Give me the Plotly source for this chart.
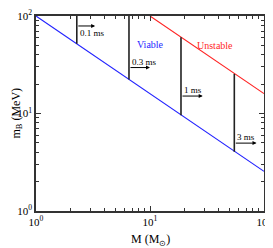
import numpy as np
import plotly.graph_objects as go

# Data
viable_M = [1, 100]
viable_mB = [100, 2.55]
unstable_M = [10, 100]
unstable_mB = [100, 16]
times_M = [2.28, 6.54, 18.7, 54.9]
times_top = [100, 100, 60.5, 25.5]
times_bottom = [52, 22.3, 9.6, 4.05]
arrow_y = [79, 29.6, 15.1, 4.97]
arrow_end = [3.3, 10.0, 29.0, 86.0]
time_labels = ["0.1 ms", "0.3 ms", "1 ms", "3 ms"]
label_shift = [-7, 6, 6, 6]
region_labels = ["Viable", "Unstable"]
region_M = [10.0, 37.0]
region_mB = [50.8, 49.7]
region_colors = ["#1f1fff", "#ff1f1f"]
tick_vals = [1, 10, 100]
tick_text = ["10<sup>0</sup>", "10<sup>1</sup>", "10<sup>2</sup>"]
minor_vals = [2, 3, 4, 5, 6, 7, 8, 9, 20, 30, 40, 50, 60, 70, 80, 90]

FONT = "Liberation Serif"

fig = go.Figure()
fig.add_trace(go.Scatter(x=viable_M, y=viable_mB, mode="lines",
                         line=dict(color="#2222ff", width=1.1), showlegend=False))
fig.add_trace(go.Scatter(x=unstable_M, y=unstable_mB, mode="lines",
                         line=dict(color="#ff2222", width=1.1), showlegend=False))
for m, t, b in zip(times_M, times_top, times_bottom):
    fig.add_trace(go.Scatter(x=[m, m], y=[b, t], mode="lines",
                             line=dict(color="#222222", width=1.6), showlegend=False))

for m, y, e, lab, s in zip(times_M, arrow_y, arrow_end, time_labels, label_shift):
    fig.add_annotation(x=np.log10(e), y=np.log10(y), ax=np.log10(m), ay=np.log10(y),
                       xref="x", yref="y", axref="x", ayref="y",
                       showarrow=True, arrowhead=2, arrowsize=0.8, arrowwidth=1,
                       arrowcolor="black", text="")
    fig.add_annotation(x=np.log10(m), y=np.log10(y), xref="x", yref="y",
                       text=lab, showarrow=False, xanchor="left", yanchor="middle",
                       xshift=1, yshift=s, font=dict(family=FONT, size=9, color="black"))

for lab, m, y, c in zip(region_labels, region_M, region_mB, region_colors):
    fig.add_annotation(x=np.log10(m), y=np.log10(y), xref="x", yref="y",
                       text=lab, showarrow=False,
                       font=dict(family=FONT, size=10, color=c))

axis_common = dict(type="log", range=[0, 2], showgrid=False, zeroline=False,
                   automargin=False, ticklabeloverflow="allow",
                   showline=True, linecolor="#333333", linewidth=1.5, mirror="allticks",
                   ticks="inside", ticklen=5, tickwidth=1, tickcolor="#333333",
                   tickvals=tick_vals, ticktext=tick_text,
                   minor=dict(ticks="inside", ticklen=3, tickwidth=1, tickcolor="#333333",
                              tickvals=minor_vals, showgrid=False),
                   tickfont=dict(family=FONT, size=11, color="black"))

fig.update_xaxes(**axis_common)
fig.update_yaxes(**axis_common)

fig.add_annotation(x=0.5, y=0, xref="paper", yref="paper", yshift=-19,
                   text="M (M<sub>⊙</sub>)", showarrow=False, yanchor="top",
                   font=dict(family=FONT, size=12, color="black"))
fig.add_annotation(x=0, y=0.5, xref="paper", yref="paper", xshift=-20,
                   text="m<sub>B</sub> (MeV)", showarrow=False, textangle=-90,
                   xanchor="center", font=dict(family=FONT, size=12, color="black"))

# the page body has an 8px default margin, so the figure is sized to fit the window
fig.update_layout(width=265, height=240, margin=dict(l=28, r=9, t=8, b=37),
                  plot_bgcolor="white", paper_bgcolor="white", showlegend=False)

fig.write_html("out.html")
